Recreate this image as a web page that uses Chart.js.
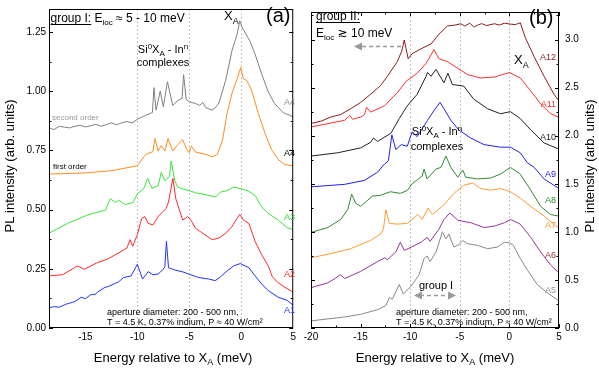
<!DOCTYPE html>
<html>
<head>
<meta charset="utf-8">
<script src="https://cdn.jsdelivr.net/npm/chart.js@4.4.1/dist/chart.umd.min.js"></script>
<style>
  body { margin: 0; background: #fff; }
  #wrap { position: relative; width: 599px; height: 368px; }
  canvas { position: absolute; top: 0; }
</style>
</head>
<body>
<div id="wrap">
  <canvas id="chartA" width="299" height="368" style="left:0"></canvas>
  <canvas id="chartB" width="300" height="368" style="left:299px"></canvas>
</div>
<script>
const FONT = "'Liberation Sans', Arial, 'DejaVu Sans', sans-serif";

// ---- panel (a): group I ----
const aXTicks = [-15, -10, -5, 0, 5];
const aYTicks = [0, 0.25, 0.5, 0.75, 1.0, 1.25];

const a4secondE = [-18.5, -18, -17.5, -17, -16.5, -16, -15.5, -15, -14.5, -14, -13.5, -13, -12.5, -12, -11.6, -11, -10.5, -10, -9.6, -9.1, -8.55, -8.4, -8.2, -7.8, -7.5, -7.1, -6.6, -6.1, -5.7, -5.55, -5.3, -5, -4.4, -4, -3.7, -3.4, -3.1, -2.8, -2.5, -2.15, -1.5, -0.9, -0.4, -0.15, 0.1, 0.4, 0.85, 1.33, 1.96, 2.6, 3.2, 3.6, 3.9, 4.2, 4.6, 5];
const a4secondI = [0.845, 0.838, 0.852, 0.848, 0.845, 0.852, 0.856, 0.849, 0.854, 0.86, 0.852, 0.858, 0.866, 0.858, 0.865, 0.872, 0.866, 0.881, 0.89, 0.90, 0.91, 1.015, 0.92, 1.00, 0.934, 1.04, 0.94, 0.96, 0.97, 1.07, 0.965, 0.955, 0.948, 0.94, 0.952, 0.93, 0.925, 0.92, 0.93, 0.95, 1.045, 1.17, 1.24, 1.297, 1.267, 1.245, 1.21, 1.156, 1.073, 0.997, 0.948, 0.93, 0.915, 0.906, 0.9, 0.89];

const a4firstE = [-18.5, -15, -12.5, -10, -9.2, -8.5, -8.3, -8.0, -7.7, -7.35, -7.05, -6.6, -6.1, -5.63, -5.25, -5.0, -4.8, -4.4, -3.4, -2.8, -2.3, -1.8, -1.36, -0.9, -0.4, -0.05, 0.2, 0.54, 1.0, 1.64, 2.28, 2.9, 3.54, 4.2, 5];
const a4firstI = [0.65, 0.655, 0.664, 0.685, 0.733, 0.745, 0.80, 0.747, 0.77, 0.747, 0.80, 0.747, 0.775, 0.795, 0.754, 0.74, 0.768, 0.743, 0.733, 0.723, 0.733, 0.795, 0.906, 0.99, 1.052, 1.10, 1.052, 1.045, 1.003, 0.906, 0.823, 0.754, 0.712, 0.69, 0.685];

const a3E = [-18.5, -16.7, -14.8, -13.06, -12.6, -12.1, -11.8, -11.17, -10.4, -10, -9.4, -9.0, -8.6, -8.0, -7.7, -7.35, -6.9, -6.74, -6.4, -6.1, -5.6, -5, -4.4, -3.4, -2.47, -2.0, -1.36, -0.73, 0.1, 0.73, 1.33, 1.96, 2.6, 3.54, 4.4, 5];
const a3I = [0.40, 0.442, 0.477, 0.498, 0.546, 0.53, 0.539, 0.521, 0.53, 0.567, 0.587, 0.632, 0.59, 0.60, 0.657, 0.622, 0.64, 0.705, 0.622, 0.595, 0.587, 0.58, 0.571, 0.563, 0.553, 0.574, 0.58, 0.595, 0.587, 0.577, 0.56, 0.511, 0.484, 0.456, 0.424, 0.415];

const a2E = [-18.5, -17.2, -15.75, -15.1, -13.85, -12.9, -11.8, -11.0, -10.7, -10.45, -10, -9.58, -9.27, -8.95, -8.5, -8.0, -7.7, -7.25, -7.0, -6.58, -6.3, -5.95, -5.63, -5.15, -4.85, -4.4, -3.7, -2.8, -2.15, -1.5, -0.9, -0.15, 0.2, 0.73, 1.33, 1.96, 2.6, 3.0, 3.5, 4.2, 5];
const a2I = [0.22, 0.225, 0.262, 0.248, 0.276, 0.29, 0.317, 0.338, 0.373, 0.345, 0.394, 0.463, 0.47, 0.442, 0.435, 0.47, 0.484, 0.504, 0.532, 0.632, 0.546, 0.498, 0.456, 0.47, 0.456, 0.421, 0.40, 0.373, 0.38, 0.40, 0.428, 0.48, 0.456, 0.442, 0.366, 0.31, 0.262, 0.216, 0.193, 0.172, 0.151];

const a1E = [-18.5, -18, -17.5, -16.9, -16.5, -16, -15.4, -15, -14.5, -14, -13.85, -13.1, -12.8, -12.3, -11.8, -11.32, -10.6, -10, -9.5, -8.95, -8.5, -8.0, -7.5, -7.35, -7.2, -7.0, -6.4, -5.63, -5, -4.1, -3.15, -2.5, -2.0, -1.36, -0.73, -0.1, 0.73, 1.33, 1.96, 2.6, 3.54, 4.4, 5];
const a1I = [0.086, 0.09, 0.088, 0.10, 0.105, 0.112, 0.13, 0.124, 0.14, 0.143, 0.151, 0.172, 0.175, 0.185, 0.195, 0.213, 0.22, 0.269, 0.207, 0.238, 0.225, 0.228, 0.248, 0.26, 0.366, 0.255, 0.245, 0.237, 0.227, 0.213, 0.207, 0.20, 0.216, 0.241, 0.262, 0.272, 0.255, 0.22, 0.186, 0.158, 0.13, 0.117, 0.096];

// ---- panel (b): group II ----
const bXTicks = [-20, -15, -10, -5, 0, 5];
const bYTicks = [0, 0.5, 1.0, 1.5, 2.0, 2.5, 3.0];

const a12E = [-20, -19, -18, -17, -16, -15, -14, -13, -12.3, -11.3, -10.85, -10.6, -10.35, -10.2, -9.8, -8.9, -7.9, -7.1, -6.25, -5.5, -4.9, -4.5, -4, -3.6, -3.2, -2.8, -2.3, -1.5, -1, -0.5, 0.1, 0.6, 1.1, 1.6, 2.5, 3.5, 4.5, 5];
const a12I = [2.127, 2.15, 2.194, 2.22, 2.28, 2.345, 2.43, 2.52, 2.617, 2.77, 2.88, 2.995, 2.87, 2.80, 2.853, 2.904, 2.954, 3.056, 3.14, 3.15, 3.164, 3.14, 3.17, 3.13, 3.15, 3.165, 3.145, 3.164, 3.15, 3.17, 3.16, 3.155, 3.174, 3.02, 2.82, 2.617, 2.43, 2.36];

const a11E = [-20, -16.6, -16.1, -15.8, -15, -14.6, -14.4, -14, -12.6, -11.3, -10.4, -9.3, -8.4, -7.6, -7.1, -6.25, -5.2, -4.2, -2.9, -1.5, 0, 1.1, 2.15, 3.15, 4.15, 5];
const a11I = [2.09, 2.16, 2.21, 2.17, 2.194, 2.22, 2.295, 2.245, 2.31, 2.447, 2.566, 2.65, 2.75, 2.894, 2.80, 2.77, 2.70, 2.634, 2.60, 2.61, 2.657, 2.60, 2.465, 2.33, 2.228, 2.19];

const a10E = [-20, -17.3, -15, -14, -13.7, -13.3, -11.95, -11.1, -10.3, -9.3, -8.4, -8.25, -7.9, -7.4, -6.6, -6.2, -5.75, -4.6, -3.6, -2.2, -0.9, 0.1, 1.1, 2.15, 3.5, 5];
const a10I = [1.788, 1.822, 1.873, 1.93, 1.975, 1.94, 2.025, 2.178, 2.31, 2.43, 2.617, 2.657, 2.617, 2.69, 2.55, 2.65, 2.532, 2.515, 2.38, 2.28, 2.228, 2.25, 2.178, 2.06, 1.924, 1.86];

const a9E = [-20, -16.6, -14.6, -13.3, -12.6, -12.2, -11.85, -11.45, -10.9, -10.3, -9.8, -9.3, -8.25, -7.6, -7.0, -6.6, -5.9, -5.1, -3.9, -2.55, -0.9, 0.1, 1.1, 1.8, 2.5, 3.5, 5];
const a9I = [1.468, 1.494, 1.535, 1.62, 1.704, 1.737, 2.008, 1.856, 1.907, 1.89, 2.04, 1.99, 2.16, 2.262, 2.346, 2.28, 2.16, 2.06, 1.975, 1.907, 1.88, 1.88, 1.822, 1.72, 1.67, 1.55, 1.45];

const a8E = [-20, -18.3, -17, -16.3, -15.9, -15.5, -15, -13.8, -13, -12, -11, -10.3, -9.8, -8.8, -8.6, -8.3, -7.4, -6.9, -6.4, -5.9, -5.2, -4.7, -4.4, -3.2, -1.9, -0.9, 0.1, 1.1, 2.15, 3.15, 4.15, 5];
const a8I = [0.994, 1.045, 1.129, 1.23, 1.392, 1.298, 1.265, 1.372, 1.38, 1.417, 1.40, 1.43, 1.50, 1.58, 1.653, 1.55, 1.653, 1.67, 1.788, 1.67, 1.568, 1.643, 1.568, 1.55, 1.56, 1.60, 1.67, 1.60, 1.433, 1.265, 1.18, 1.163];

const a7E = [-20, -18, -16, -14, -13, -12.7, -12.45, -12.1, -11.3, -10.3, -9.2, -8.8, -8.2, -7.75, -6.6, -5.6, -4.6, -3.7, -2.9, -1.9, -0.9, 0.1, 1.1, 2.15, 3.5, 5];
const a7I = [0.73, 0.774, 0.825, 0.91, 0.977, 1.03, 1.23, 1.088, 1.08, 1.088, 1.18, 1.129, 1.247, 1.18, 1.28, 1.40, 1.484, 1.508, 1.45, 1.433, 1.45, 1.417, 1.35, 1.265, 1.163, 1.035];

const a6E = [-20, -18.3, -17.5, -17.05, -16.6, -15, -13.3, -12.55, -12.3, -11.45, -11.0, -10.6, -9.9, -8.9, -8.3, -8.0, -7.1, -6.6, -6.0, -5.2, -3.9, -2.55, -1.5, -0.5, 0.1, 1.1, 2.15, 3.15, 4.15, 5];
const a6I = [0.419, 0.47, 0.52, 0.555, 0.515, 0.588, 0.69, 0.73, 0.71, 0.79, 0.892, 0.808, 0.84, 0.892, 0.943, 0.9, 1.028, 1.129, 1.197, 1.12, 1.095, 1.045, 1.06, 1.095, 1.129, 1.08, 0.943, 0.79, 0.656, 0.57];

const a5E = [-20, -16.6, -15, -13.3, -12.45, -12.1, -11.8, -11.1, -10.7, -9.9, -9.1, -8.6, -8.3, -8.0, -7.4, -6.75, -6.4, -6.1, -5.6, -5.1, -4.7, -4.2, -3.2, -2.2, -1.2, -0.5, 0, 0.4, 1.1, 1.8, 2.8, 3.8, 5];
const a5I = [0.074, 0.115, 0.142, 0.19, 0.233, 0.317, 0.30, 0.453, 0.352, 0.436, 0.555, 0.723, 0.75, 0.69, 0.79, 1.0, 0.926, 0.977, 0.842, 0.865, 0.91, 0.876, 0.859, 0.825, 0.842, 0.892, 0.885, 0.86, 0.723, 0.605, 0.453, 0.368, 0.28];

function ds(E, I, color) {
  return {
    data: E.map((x, i) => ({ x: x, y: I[i] })),
    borderColor: color, borderWidth: 1, pointRadius: 0, tension: 0, fill: false
  };
}

// text with sub/superscripts and underline: parts = [[text, kind], ...]
function rich(ctx, x, y, parts, size, color, align) {
  ctx.save();
  ctx.fillStyle = color;
  ctx.textBaseline = 'alphabetic';
  ctx.textAlign = 'left';
  let w = 0;
  const segs = parts.map(([t, k]) => {
    const s = (k === 'sub' || k === 'sup') ? Math.round(size * 0.7) : size;
    ctx.font = s + 'px ' + FONT;
    const sw = ctx.measureText(t).width;
    const dy = k === 'sub' ? size * 0.28 : k === 'sup' ? -size * 0.4 : 0;
    const seg = { t, k, s, sw, dy, x: w };
    w += sw;
    return seg;
  });
  const x0 = align === 'center' ? x - w / 2 : align === 'right' ? x - w : x;
  segs.forEach(g => {
    ctx.font = g.s + 'px ' + FONT;
    ctx.fillText(g.t, x0 + g.x, y + g.dy);
    if (g.k === 'u') ctx.fillRect(x0 + g.x, y + 2, g.sw, 1);
  });
  ctx.restore();
}

function arrowHead(ctx, x, y, dir) {
  ctx.beginPath();
  ctx.moveTo(x, y);
  ctx.lineTo(x - dir * 8, y - 4);
  ctx.lineTo(x - dir * 8, y + 4);
  ctx.closePath();
  ctx.fill();
}

function framePlugin(xStep, xMajor, yStep, yMajor, vlines, notes) {
  return {
    id: 'frame',
    beforeDatasetsDraw(chart) {
      const ctx = chart.ctx, a = chart.chartArea, xs = chart.scales.x;
      ctx.save();
      ctx.strokeStyle = '#c4c4c4';
      ctx.lineWidth = 1;
      ctx.setLineDash([2, 2]);
      vlines.forEach(v => {
        const px = Math.round(xs.getPixelForValue(v)) + 0.5;
        ctx.beginPath(); ctx.moveTo(px, a.top); ctx.lineTo(px, a.bottom); ctx.stroke();
      });
      ctx.restore();
    },
    afterDraw(chart) {
      const ctx = chart.ctx, a = chart.chartArea, xs = chart.scales.x, ys = chart.scales.y;
      ctx.save();
      ctx.strokeStyle = '#000';
      ctx.lineWidth = 1;
      ctx.strokeRect(a.left + 0.5, a.top + 0.5, a.right - a.left - 1, a.bottom - a.top - 1);
      ctx.beginPath();
      for (let v = xs.min; v <= xs.max + 1e-9; v += xStep) {
        const r = Math.round(v / xStep) * xStep;
        if (Math.abs(r - v) > 1e-6) continue;
        const major = Math.abs(r / xMajor - Math.round(r / xMajor)) < 1e-6;
        const len = major ? 4 : 2.5;
        const px = Math.round(xs.getPixelForValue(r)) + 0.5;
        ctx.moveTo(px, a.bottom); ctx.lineTo(px, a.bottom - len);
        ctx.moveTo(px, a.top); ctx.lineTo(px, a.top + len);
      }
      for (let v = 0; v <= ys.max + 1e-9; v += yStep) {
        const major = Math.abs(v / yMajor - Math.round(v / yMajor)) < 1e-6;
        const len = major ? 4 : 2.5;
        const py = Math.round(ys.getPixelForValue(v)) + 0.5;
        ctx.moveTo(a.left, py); ctx.lineTo(a.left + len, py);
        ctx.moveTo(a.right, py); ctx.lineTo(a.right - len, py);
      }
      ctx.stroke();
      ctx.restore();
      notes(ctx, a);
    }
  };
}

function axisOpts(min, max, ticks, fmt, extra) {
  return Object.assign({
    type: 'linear', min: min, max: max,
    grid: { display: false, drawTicks: false },
    border: { display: false },
    afterBuildTicks: s => { s.ticks = ticks.map(v => ({ value: v })); },
    ticks: { font: { family: FONT, size: 10 }, color: '#000', maxRotation: 0, autoSkip: false, callback: fmt }
  }, extra);
}

const xTitle = [['Energy relative to X', ''], ['A', 'sub'], [' (meV)', '']];
const yTitle = [['PL intensity (arb. units)', '']];

function notesA(ctx, a) {
  rich(ctx, 50.5, 22, [['group I:', 'u'], [' E', ''], ['loc', 'sub'], [' \u2248 5 - 10 meV', '']], 12, '#000', 'left');
  rich(ctx, 224, 20, [['X', ''], ['A', 'sub']], 13, '#000', 'left');
  rich(ctx, 266, 22, [['(a)', '']], 20, '#000', 'left');
  rich(ctx, 163, 53, [['Si', ''], ['0', 'sup'], ['X', ''], ['A', 'sub'], [' - In', ''], ['n', 'sup']], 11, '#000', 'center');
  rich(ctx, 163, 66, [['complexes', '']], 11, '#000', 'center');
  rich(ctx, 52, 120, [['second order', '']], 8, '#999', 'left');
  rich(ctx, 53, 169, [['first order', '']], 8, '#000', 'left');
  rich(ctx, 295, 105, [['A4', '']], 9, '#888', 'right');
  rich(ctx, 295, 156, [['A4', '']], 9, '#000', 'right');
  rich(ctx, 295, 220, [['A3', '']], 9, '#2fd12f', 'right');
  rich(ctx, 295, 277, [['A2', '']], 9, '#ff2a2a', 'right');
  rich(ctx, 295, 313, [['A1', '']], 9, '#2233ff', 'right');
  rich(ctx, 107, 314.5, [['aperture diameter: 200 - 500 nm,', '']], 9, '#000', 'left');
  rich(ctx, 107, 324.5, [['T = 4.5 K, 0.37% indium, P \u2248 40 W/cm\u00b2', '']], 9, '#000', 'left');
  rich(ctx, 173, 361.5, xTitle, 13, '#000', 'center');
  ctx.save();
  ctx.translate(13.5, 166);
  ctx.rotate(-Math.PI / 2);
  rich(ctx, 0, 0, yTitle, 13, '#000', 'center');
  ctx.restore();
}

function notesB(ctx, a) {
  const o = -299;
  rich(ctx, 316 + o, 20, [['group II:', 'u']], 12, '#000', 'left');
  rich(ctx, 316 + o, 36.5, [['E', ''], ['loc', 'sub'], [' \u2273 10 meV', '']], 12, '#000', 'left');
  rich(ctx, 514 + o, 64, [['X', ''], ['A', 'sub']], 13, '#000', 'left');
  rich(ctx, 529 + o, 24, [['(b)', '']], 20, '#000', 'left');
  rich(ctx, 437 + o, 135, [['Si', ''], ['0', 'sup'], ['X', ''], ['A', 'sub'], [' - In', ''], ['n', 'sup']], 11, '#000', 'center');
  rich(ctx, 437 + o, 150, [['complexes', '']], 11, '#000', 'center');
  rich(ctx, 556 + o, 60, [['A12', '']], 9, '#8b1c1c', 'right');
  rich(ctx, 556 + o, 106.5, [['A11', '']], 9, '#ff3030', 'right');
  rich(ctx, 556 + o, 140, [['A10', '']], 9, '#222', 'right');
  rich(ctx, 556 + o, 176.5, [['A9', '']], 9, '#2020ee', 'right');
  rich(ctx, 556 + o, 203, [['A8', '']], 9, '#2e8b2e', 'right');
  rich(ctx, 556 + o, 227.5, [['A7', '']], 9, '#ff9933', 'right');
  rich(ctx, 556 + o, 257.5, [['A6', '']], 9, '#a03333', 'right');
  rich(ctx, 556 + o, 293, [['A5', '']], 9, '#999', 'right');
  rich(ctx, 436 + o, 288.5, [['group I', '']], 11, '#000', 'center');
  rich(ctx, 396 + o, 314.5, [['aperture diameter: 200 - 500 nm,', '']], 9, '#000', 'left');
  rich(ctx, 396 + o, 324.5, [['T = 4.5 K, 0.37% indium, P \u2248 40 W/cm\u00b2', '']], 9, '#000', 'left');
  rich(ctx, 435 + o, 361.5, xTitle, 13, '#000', 'center');
  // dashed arrows
  ctx.save();
  ctx.strokeStyle = '#999'; ctx.fillStyle = '#999'; ctx.lineWidth = 1.5;
  ctx.setLineDash([4, 3]);
  ctx.beginPath(); ctx.moveTo(401 + o, 46.5); ctx.lineTo(360 + o, 46.5); ctx.stroke();
  ctx.beginPath(); ctx.moveTo(420 + o, 295.5); ctx.lineTo(450 + o, 295.5); ctx.stroke();
  ctx.setLineDash([]);
  arrowHead(ctx, 354 + o, 46.5, -1);
  arrowHead(ctx, 414 + o, 295.5, -1);
  arrowHead(ctx, 456 + o, 295.5, 1);
  ctx.restore();
  ctx.save();
  ctx.translate(593.5 + o, 166);
  ctx.rotate(-Math.PI / 2);
  rich(ctx, 0, 0, yTitle, 13, '#000', 'center');
  ctx.restore();
}

new Chart(document.getElementById('chartA'), {
  type: 'line',
  data: {
    datasets: [
      ds(a4secondE, a4secondI, '#808080'),
      ds(a4firstE, a4firstI, '#ff8c1f'),
      ds(a3E, a3I, '#3ae63a'),
      ds(a2E, a2I, '#ff2a2a'),
      ds(a1E, a1I, '#2233ff')
    ]
  },
  options: {
    responsive: false, animation: false, devicePixelRatio: 1,
    layout: { padding: { left: 0, right: 2, top: 4, bottom: 0 } },
    plugins: { legend: { display: false }, tooltip: { enabled: false } },
    scales: {
      x: axisOpts(-18.5, 5, aXTicks, v => String(v), {
        afterFit: s => { s.height = 40; }
      }),
      y: axisOpts(0, 1.347, aYTicks, v => v.toFixed(2), {
        position: 'left',
        afterFit: s => { s.width = 49; }
      })
    }
  },
  plugins: [framePlugin(2.5, 5, 0.125, 0.25, [-10, -5, 0], notesA)]
});

const chartBY = axisOpts(0, 3.286, bYTicks, v => v.toFixed(1), {
  position: 'right',
  afterFit: s => { s.width = 40; }
});
chartBY.ticks.padding = 6;

new Chart(document.getElementById('chartB'), {
  type: 'line',
  data: {
    datasets: [
      ds(a12E, a12I, '#8b1c1c'),
      ds(a11E, a11I, '#ff3030'),
      ds(a10E, a10I, '#222222'),
      ds(a9E, a9I, '#2020ee'),
      ds(a8E, a8I, '#2e8b2e'),
      ds(a7E, a7I, '#ff9933'),
      ds(a6E, a6I, '#993399'),
      ds(a5E, a5I, '#888888')
    ]
  },
  options: {
    responsive: false, animation: false, devicePixelRatio: 1,
    layout: { padding: { left: 12, right: 0, top: 4, bottom: 0 } },
    plugins: { legend: { display: false }, tooltip: { enabled: false } },
    scales: {
      x: axisOpts(-20, 5, bXTicks, v => String(v), {
        afterFit: s => { s.height = 40; }
      }),
      y: chartBY
    }
  },
  plugins: [framePlugin(2.5, 5, 0.25, 0.5, [-10, -5, 0], notesB)]
});
</script>
</body>
</html>
